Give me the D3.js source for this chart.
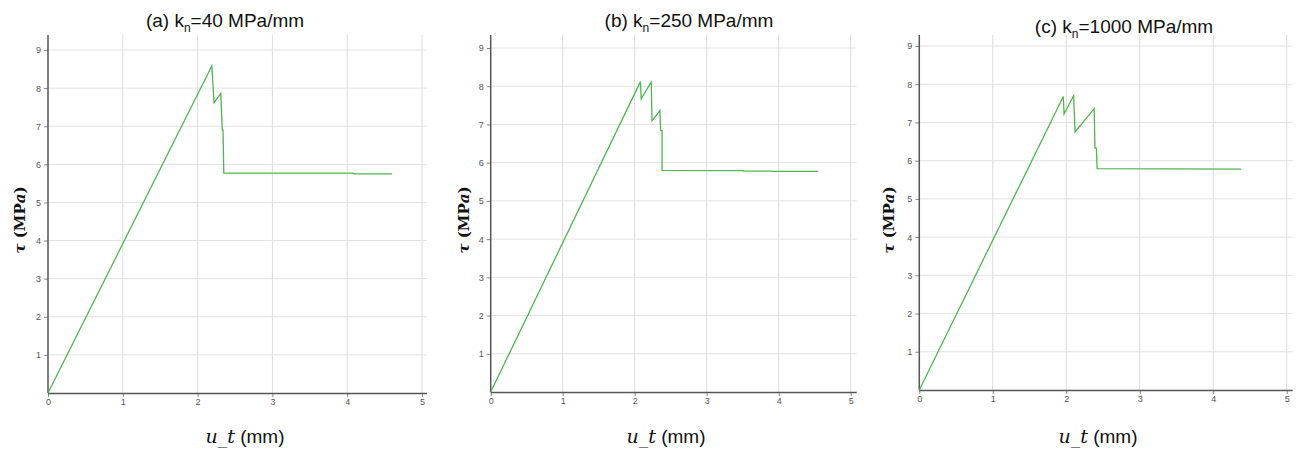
<!DOCTYPE html>
<html><head><meta charset="utf-8">
<script src="https://cdn.jsdelivr.net/npm/d3@7"></script>
<style>body{margin:0;background:#fff}svg{display:block}</style>
</head><body>
<script>
// ---- data ----
const xTicks = [0,1,2,3,4,5];
const yTicks = [1,2,3,4,5,6,7,8,9];
const titlesPrefix = ["(a) k", "(b) k", "(c) k"];
const titlesSuffix = ["=40 MPa/mm", "=250 MPa/mm", "=1000 MPa/mm"];
const uA = [0, 2.19, 2.22, 2.31, 2.33, 2.34, 2.35, 4.08, 4.09, 4.60];
const tA = [0, 8.58, 7.62, 7.86, 6.90, 6.90, 5.77, 5.77, 5.75, 5.75];
const uB = [0, 2.08, 2.09, 2.23, 2.24, 2.35, 2.36, 2.38, 2.38, 3.50, 3.52, 3.90, 3.92, 4.55];
const tB = [0, 8.12, 7.67, 8.11, 7.09, 7.36, 6.84, 6.84, 5.80, 5.79, 5.78, 5.78, 5.77, 5.77];
const uC = [0, 1.96, 1.97, 2.10, 2.12, 2.38, 2.39, 2.41, 2.42, 4.38];
const tC = [0, 7.68, 7.22, 7.70, 6.75, 7.36, 6.33, 6.33, 5.79, 5.78];

const W = 1304, H = 450;
const svg = d3.select("body").append("svg").attr("width", W).attr("height", H)
  .style("font-family", "'Liberation Sans', Arial, sans-serif");

const panels = [
  {u: uA, t: tA, x0: 48, x5: 422, xEnd: 427, y0: 393, y9: 50, top: 35, title: 225, titleY: 27, xl: 245, yl: 20},
  {u: uB, t: tB, x0: 490.7, x5: 850.7, xEnd: 856.7, y0: 392, y9: 48, top: 35, title: 689, titleY: 27, xl: 666, yl: 464},
  {u: uC, t: tC, x0: 919.3, x5: 1286.7, xEnd: 1292.7, y0: 390, y9: 46, top: 35, title: 1124, titleY: 33, xl: 1098, yl: 889}
];

panels.forEach((p, i) => {
  const x = d3.scaleLinear().domain([0, 5]).range([p.x0, p.x5]);
  const y = d3.scaleLinear().domain([0, 9]).range([p.y0, p.y9]);
  const g = svg.append("g");

  // grid
  g.selectAll(".vg").data(xTicks.slice(1)).join("line")
    .attr("x1", d => x(d)).attr("x2", d => x(d))
    .attr("y1", p.y0).attr("y2", p.top)
    .attr("stroke", "#dcdcdc").attr("stroke-width", 1);
  g.selectAll(".hg").data(yTicks).join("line")
    .attr("x1", p.x0).attr("x2", p.xEnd)
    .attr("y1", d => y(d)).attr("y2", d => y(d))
    .attr("stroke", "#e2e2e2").attr("stroke-width", 1);

  // axes
  const xa = g.append("g").attr("transform", `translate(0,${p.y0})`)
    .call(d3.axisBottom(x).tickValues(xTicks).tickFormat(d3.format("d")).tickSize(4).tickSizeOuter(0));
  xa.select(".domain").remove();
  const ya = g.append("g").attr("transform", `translate(${p.x0},0)`)
    .call(d3.axisLeft(y).tickValues(yTicks).tickFormat(d3.format("d")).tickSize(4).tickSizeOuter(0));
  ya.select(".domain").remove();
  [xa, ya].forEach(a => {
    a.selectAll("text").attr("fill", "#555").style("font-size", "9px");
    a.selectAll(".tick line").attr("stroke", "#888");
  });
  xa.selectAll("text").attr("dy", "0.6em");
  g.append("line").attr("x1", p.x0).attr("x2", p.xEnd).attr("y1", p.y0 + 0.5).attr("y2", p.y0 + 0.5)
    .attr("stroke", "#555").attr("stroke-width", 1.5);
  g.append("line").attr("x1", p.x0).attr("x2", p.x0).attr("y1", p.y0).attr("y2", p.top)
    .attr("stroke", "#555").attr("stroke-width", 1.5);

  // curve
  const pts = p.u.map((v, k) => [v, p.t[k]]);
  g.append("path").datum(pts)
    .attr("d", d3.line().x(d => x(d[0])).y(d => y(d[1])))
    .attr("fill", "none").attr("stroke", "#52b452").attr("stroke-width", 1.3);

  // title
  const tt = svg.append("text").attr("x", p.title).attr("y", p.titleY)
    .attr("text-anchor", "middle").style("font-size", "19px").attr("fill", "#111");
  tt.append("tspan").text(titlesPrefix[i]);
  tt.append("tspan").text("n").attr("dy", 5).style("font-size", "12px");
  tt.append("tspan").text(titlesSuffix[i]).attr("dy", -5);

  // x label
  const xl = svg.append("text").attr("x", p.xl).attr("y", 443)
    .attr("text-anchor", "middle").style("font-size", "19px").attr("fill", "#111");
  xl.append("tspan").text("u_t").style("font-family", "'DejaVu Serif', serif").style("font-style", "italic");
  xl.append("tspan").text(" (mm)");

  // y label
  const yl = svg.append("text").attr("transform", `translate(${p.yl + 5},220) rotate(-90)`)
    .attr("text-anchor", "middle").style("font-size", "15px").style("font-weight", "bold").attr("fill", "#111")
    .style("font-family", "'DejaVu Serif', serif");
  yl.append("tspan").text("τ").style("font-style", "italic");
  yl.append("tspan").text(" (MP");
  yl.append("tspan").text("a").style("font-style", "italic");
  yl.append("tspan").text(")");
});
</script>
</body></html>
